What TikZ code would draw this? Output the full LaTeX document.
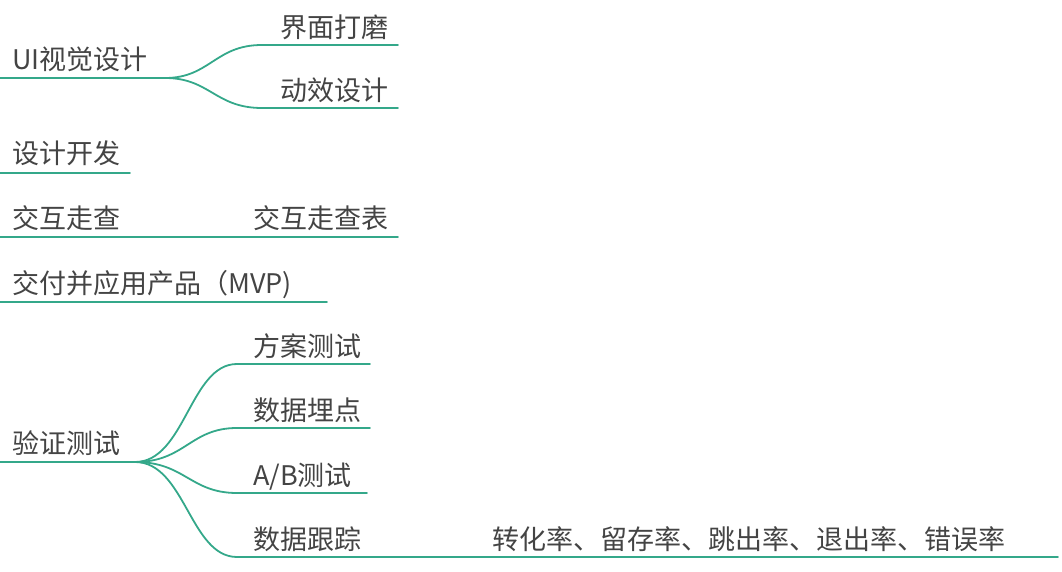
\documentclass[tikz,border=0pt]{standalone}
\usepackage{fontspec}
\setmainfont{Noto Sans CJK SC}
\definecolor{teal1}{RGB}{52,168,138}
\definecolor{txt}{RGB}{68,68,68}
\begin{document}
\begin{tikzpicture}[x=1pt,y=-1pt,
  lbl/.style={anchor=base west,inner sep=0pt,text=txt,font=\fontsize{27}{30}\selectfont},
  edge/.style={draw=teal1,line width=1.8pt,line cap=round}]
\useasboundingbox (0,0) rectangle (1062,572);
% ---------- UI visual design ----------
\coordinate (a0) at (0,78);
\coordinate (ab) at (165,78);
\coordinate (a1s) at (262,45);  \coordinate (a1e) at (398,45);
\coordinate (a2s) at (262,108); \coordinate (a2e) at (398,108);
\node[lbl] (ui) at (12,70) {UI视觉设计};
\node[lbl] (jm) at (280,38) {界面打磨};
\node[lbl] (dx) at (280,101) {动效设计};
\draw[edge] (a0) -- (ab);
\draw[edge] (ab) .. controls (210,78) and (215,45) .. (a1s) -- (a1e);
\draw[edge] (ab) .. controls (210,78) and (215,108) .. (a2s) -- (a2e);
% ---------- design dev ----------
\coordinate (b0) at (0,173); \coordinate (b1) at (130,173);
\node[lbl] (sj) at (12,164) {设计开发};
\draw[edge] (b0) -- (b1);
% ---------- interaction walkthrough ----------
\coordinate (c0) at (0,237); \coordinate (c1) at (398,237);
\node[lbl] (jh) at (12,228) {交互走查};
\node[lbl] (jhb) at (253,228) {交互走查表};
\draw[edge] (c0) -- (c1);
% ---------- MVP ----------
\coordinate (d0) at (0,302); \coordinate (d1) at (327,302);
\node[lbl] (mvp) at (12,293) {交付并应用产品（MVP)};
\draw[edge] (d0) -- (d1);
% ---------- validation ----------
\coordinate (e0) at (0,462);
\coordinate (eb) at (135,462);
\node[lbl] (yz) at (12,453) {验证测试};
\coordinate (e1s) at (237,364); \coordinate (e1e) at (370,364);
\coordinate (e2s) at (237,428); \coordinate (e2e) at (370,428);
\coordinate (e3s) at (237,493); \coordinate (e3e) at (367,493);
\coordinate (e4s) at (237,557); \coordinate (e4e) at (1058,557);
\node[lbl] (fa) at (253,356) {方案测试};
\node[lbl] (mj) at (253,420) {数据埋点};
\node[lbl] (ab2) at (253,485) {A/B测试};
\node[lbl] (gz) at (253,549) {数据跟踪};
\node[lbl] (zh) at (492,549) {转化率、留存率、跳出率、退出率、错误率};
\draw[edge] (e0) -- (eb);
\draw[edge] (eb) .. controls (185,462) and (190,364) .. (e1s) -- (e1e);
\draw[edge] (eb) .. controls (185,462) and (190,428) .. (e2s) -- (e2e);
\draw[edge] (eb) .. controls (185,462) and (190,493) .. (e3s) -- (e3e);
\draw[edge] (eb) .. controls (185,462) and (190,557) .. (e4s) -- (e4e);
\end{tikzpicture}
\end{document}
